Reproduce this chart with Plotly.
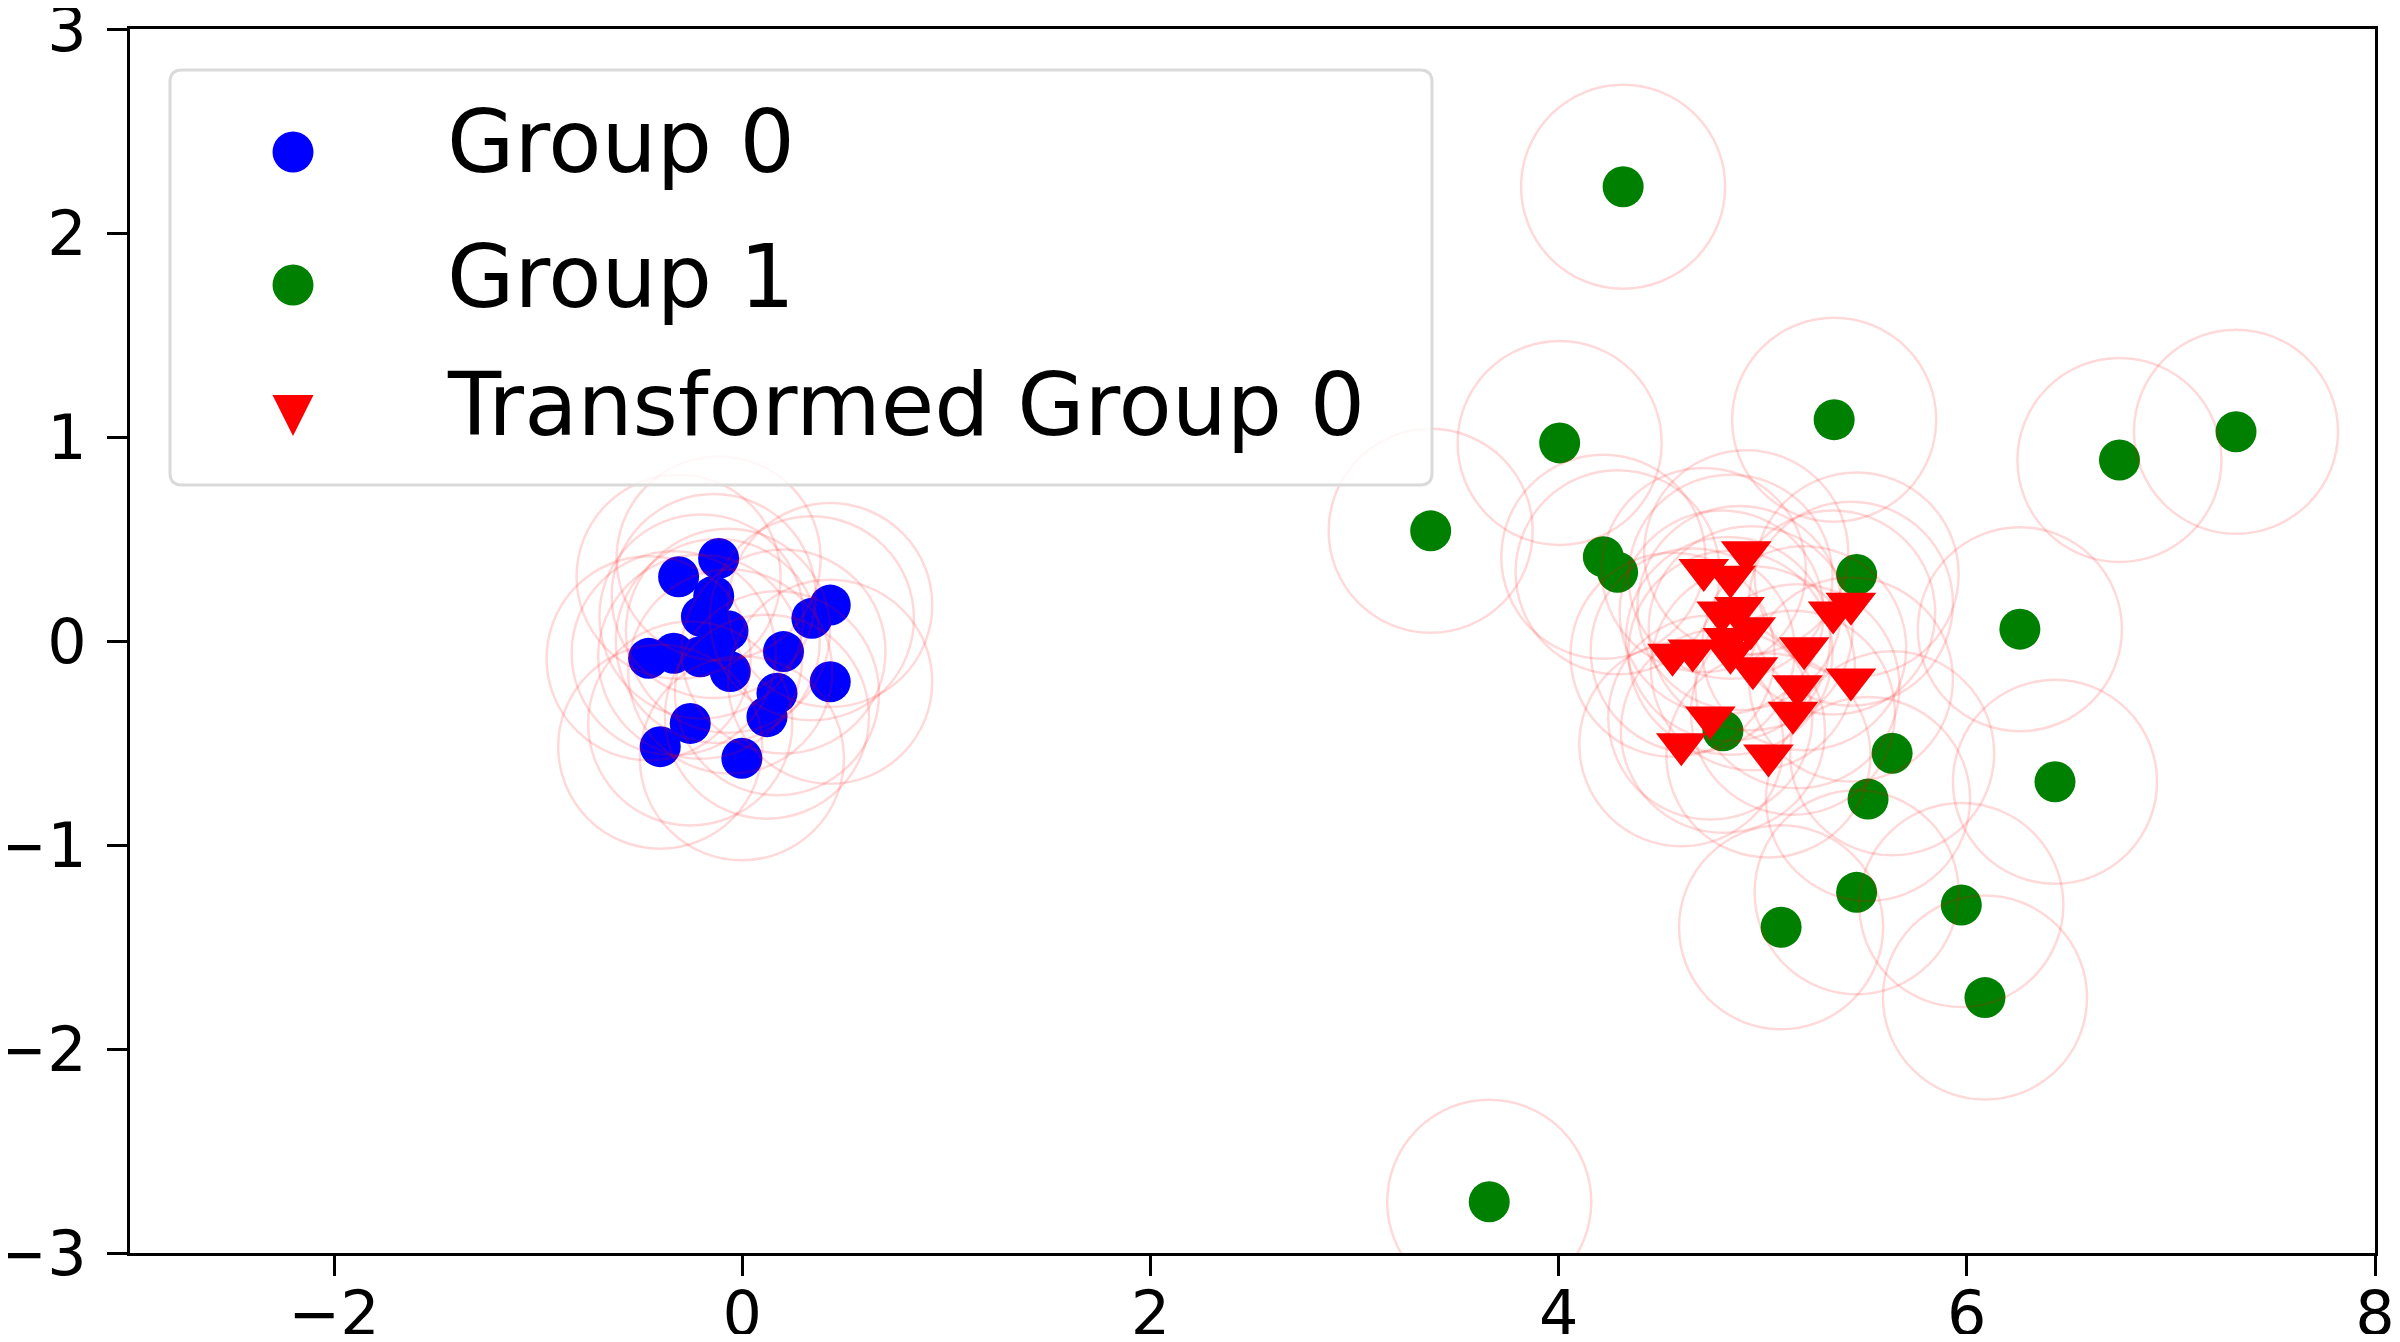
"""Group 0 / Group 1 scatter with the transformed Group 0 and 0.5-radius rings."""

import plotly.graph_objects as go

# Group 0 (blue dots)
group0_x = [-0.116, -0.312, -0.14, -0.20, -0.07, -0.12, 0.431, 0.341, 0.202,
            -0.459, -0.336, -0.206, -0.059, 0.431, 0.17, 0.121, -0.255,
            -0.402, -0.002]
group0_y = [0.405, 0.315, 0.22, 0.12, 0.05, 0.0, 0.176, 0.111, -0.052,
            -0.085, -0.06, -0.077, -0.15, -0.2, -0.256, -0.371, -0.404,
            -0.518, -0.575]

# Group 1 (green dots)
group1_x = [4.316, 5.35, 4.005, 6.748, 7.319, 3.373, 4.219, 4.289, 5.46,
            6.26, 4.805, 5.634, 5.516, 6.432, 5.46, 5.09, 5.973, 6.089, 3.66]
group1_y = [2.227, 1.085, 0.971, 0.887, 1.026, 0.54, 0.413, 0.337, 0.326,
            0.058, -0.44, -0.55, -0.775, -0.69, -1.232, -1.403, -1.294,
            -1.748, -2.749]

# Transformed Group 0 (red triangles)
trans_x = [4.919, 4.711, 4.842, 4.799, 4.886, 4.941, 4.558, 4.657, 4.842,
           4.952, 5.203, 5.345, 5.432, 5.432, 5.170, 5.148, 4.743, 4.601,
           5.028, 4.83]
trans_y = [0.435, 0.348, 0.315, 0.140, 0.162, 0.063, -0.068, -0.046, -0.057,
           -0.134, -0.035, 0.140, 0.183, -0.189, -0.222, -0.352, -0.375,
           -0.506, -0.561, 0.01]

ring_radius = 0.5

legend_labels = ["Group 0", "Group 1", "Transformed Group 0"]
x_ticks = [-2, 0, 2, 4, 6, 8]
y_ticks = [-3, -2, -1, 0, 1, 2, 3]


def tick_text(values):
    return [str(v).replace("-", "\u2212") for v in values]


FONT = "DejaVu Sans"

fig = go.Figure()
fig.add_trace(go.Scatter(
    x=group0_x, y=group0_y, mode="markers", name=legend_labels[0],
    marker={"symbol": "circle", "size": 41, "color": "#0000ff",
            "line": {"width": 0}},
    showlegend=False,
))
fig.add_trace(go.Scatter(
    x=group1_x, y=group1_y, mode="markers", name=legend_labels[1],
    marker={"symbol": "circle", "size": 41, "color": "#008000",
            "line": {"width": 0}},
    showlegend=False,
))
fig.add_trace(go.Scatter(
    x=trans_x, y=trans_y, mode="markers", name=legend_labels[2],
    marker={"symbol": "triangle-down", "size": 44, "color": "#ff0000",
            "line": {"width": 0}},
    showlegend=False,
))

# pale rings round every point
shapes = []
for xs, ys in ((group0_x, group0_y), (group1_x, group1_y), (trans_x, trans_y)):
    for cx, cy in zip(xs, ys):
        shapes.append({
            "type": "circle", "xref": "x", "yref": "y",
            "x0": cx - ring_radius, "x1": cx + ring_radius,
            "y0": cy - ring_radius, "y1": cy + ring_radius,
            "line": {"color": "rgba(255,0,0,0.15)", "width": 2.5},
            "layer": "above",
        })

# legend box drawn by hand, in pixels from the top-left corner of the plot
bx0, bx1, by0, by1, rad = 40, 1302, -41, -456, 12
box_path = (
    f"M{bx0 + rad},{by0} H{bx1 - rad} Q{bx1},{by0} {bx1},{by0 - rad} "
    f"V{by1 + rad} Q{bx1},{by1} {bx1 - rad},{by1} H{bx0 + rad} "
    f"Q{bx0},{by1} {bx0},{by1 + rad} V{by0 - rad} Q{bx0},{by0} {bx0 + rad},{by0} Z"
)
pix = {"xref": "paper", "yref": "paper", "xsizemode": "pixel",
       "ysizemode": "pixel", "xanchor": 0, "yanchor": 1, "layer": "above"}
shapes.append({**pix, "type": "path", "path": box_path,
               "fillcolor": "rgba(255,255,255,0.8)",
               "line": {"color": "rgb(218,218,218)", "width": 3}})

sym_cx, sym_r = 163, 20.5
for cy, colour in ((-123, "#0000ff"), (-256, "#008000")):
    shapes.append({**pix, "type": "circle",
                   "x0": sym_cx - sym_r, "x1": sym_cx + sym_r,
                   "y0": cy - sym_r, "y1": cy + sym_r,
                   "fillcolor": colour, "line": {"width": 0}})
tri_top, tri_bot = -366, -407
shapes.append({**pix, "type": "path",
               "path": f"M{sym_cx - sym_r},{tri_top} L{sym_cx + sym_r},{tri_top} "
                       f"L{sym_cx},{tri_bot} Z",
               "fillcolor": "#ff0000", "line": {"width": 0}})

annotations = []
for label, ly in zip(legend_labels, [0.9077, 0.7974, 0.6928]):
    annotations.append({
        "text": label, "xref": "paper", "yref": "paper", "x": 0.1403, "y": ly,
        "xanchor": "left", "yanchor": "middle", "showarrow": False,
        "font": {"family": FONT, "size": 87, "color": "black"},
    })

axis_style = {
    "showgrid": False, "zeroline": False, "showline": True,
    "linecolor": "black", "linewidth": 3, "mirror": True,
    "ticks": "outside", "ticklen": 20, "tickwidth": 3, "tickcolor": "black",
    "tickfont": {"family": FONT, "size": 62, "color": "black"},
    "automargin": False, "ticklabeloverflow": "allow",
}

fig.update_xaxes(range=[-3, 8], tickvals=x_ticks, ticktext=tick_text(x_ticks),
                 ticklabelstandoff=-15, **axis_style)
fig.update_yaxes(range=[-3, 3], tickvals=y_ticks, ticktext=tick_text(y_ticks),
                 ticklabelstandoff=8, **axis_style)
# the page body keeps its default 8px margin, so the figure is 16px smaller
fig.update_layout(
    width=2384, height=1326,
    margin={"l": 122, "r": 17, "t": 21, "b": 81},
    plot_bgcolor="white", paper_bgcolor="white",
    shapes=shapes, annotations=annotations,
    showlegend=False,
)

fig.write_html("out.html")
